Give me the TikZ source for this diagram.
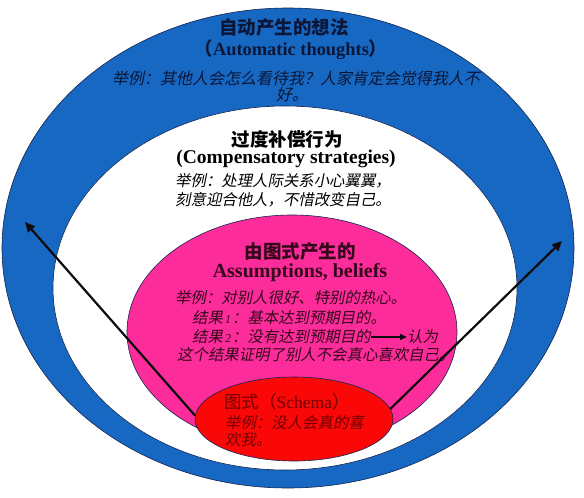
\documentclass[tikz,border=0pt]{standalone}
\usepackage{fontspec}
\setmainfont{Liberation Serif}
\newfontfamily\cjk{Noto Sans CJK SC}
\newfontfamily\cjkit{Noto Sans CJK SC}[FakeSlant=0.2]
\usetikzlibrary{shapes.geometric,arrows.meta}
\definecolor{blueF}{RGB}{22,104,194}
\definecolor{edge}{RGB}{20,35,80}
\definecolor{pinkF}{RGB}{252,44,154}
\definecolor{redF}{RGB}{250,8,8}
\definecolor{navy}{RGB}{12,22,55}
\definecolor{maroon}{RGB}{55,8,28}
\definecolor{darkred}{RGB}{115,0,0}
\definecolor{arrowc}{RGB}{15,12,15}
\tikzset{
  ell/.style={ellipse, draw=edge, line width=0.6pt, inner sep=0pt},
  ttl/.style={inner sep=0pt, anchor=center, font=\cjk\bfseries\fontsize{18.5}{20}\selectfont},
  lat/.style={inner sep=0pt, anchor=center, font=\bfseries\fontsize{19}{20}\selectfont},
  ex/.style={inner sep=0pt, anchor=west, font=\cjkit\fontsize{15.4}{17}\selectfont},
  arr/.style={line width=2.2pt, draw=arrowc, -{Triangle[length=10pt,width=9pt]}},
}
\newcommand\dig[1]{\kern2pt{\rmfamily\itshape\fontsize{12}{13}\selectfont #1}\kern1pt}
\begin{document}
\begin{tikzpicture}[x=1pt,y=-1pt]
\useasboundingbox (0,0) rectangle (584,498);
\fill[white] (0,0) rectangle (584,498);
% ellipses
\node[ell, fill=blueF, minimum width=572, minimum height=480] (outer) at (288,248) {};
\node[ell, fill=white, minimum width=464, minimum height=364] (white) at (285,288) {};
\node[ell, fill=pinkF, minimum width=330, minimum height=234] (pink) at (292,332) {};
\node[ell, fill=redF, minimum width=198, minimum height=84] (red) at (294,419) {};
% blue region text
\node[ttl, text=navy] (t1) at (284,28) {自动产生的想法};
\node[lat, text=navy, font=\bfseries\fontsize{18.4}{20}\selectfont] (t1b) at (291,50) {{\cjk （}Automatic thoughts{\cjk ）}};
\node[ex, anchor=center, text=navy, font=\cjkit\fontsize{16}{17}\selectfont] (t1c) at (296,78) {举例：其他人会怎么看待我？人家肯定会觉得我人不};
\node[ex, anchor=center, text=navy, font=\cjkit\fontsize{16}{17}\selectfont] (t1d) at (292,94) {好。};
% white region text
\node[ttl, text=black] (t2) at (287,139) {过度补偿行为};
\node[lat, text=black, font=\bfseries\fontsize{19.5}{20}\selectfont] (t2b) at (286,159) {(Compensatory strategies)};
\node[ex, text=black] (t2c) at (175,181) {举例：处理人际关系小心翼翼，};
\node[ex, text=black] (t2d) at (175,200) {刻意迎合他人，不惜改变自己。};
% pink region text
\node[ttl, text=maroon] (t3) at (300,252) {由图式产生的};
\node[lat, text=maroon, font=\bfseries\fontsize{20}{20}\selectfont] (t3b) at (300,273) {Assumptions, beliefs};
\node[ex, text=maroon] (t3c) at (175,298) {举例：对别人很好、特别的热心。};
\node[ex, text=maroon] (t3d) at (192,318) {结果\dig{1}：基本达到预期目的。};
\node[ex, text=maroon] (t3e) at (192,337) {结果\dig{2}：没有达到预期目的};
\node[ex, text=maroon] (t3f) at (407,337) {认为};
\node[ex, text=maroon] (t3g) at (177,355) {这个结果证明了别人不会真心喜欢自己。};
% red region text
\node[inner sep=0pt, anchor=west, text=darkred, font=\fontsize{17.5}{18}\selectfont] (t4) at (224,402) {{\cjk 图式（}Schema{\cjk ）}};
\node[ex, text=darkred] (t4b) at (225,423) {举例：没人会真的喜};
\node[ex, text=darkred] (t4c) at (225,440) {欢我。};
% arrows
\coordinate (tipL) at (25,222);
\coordinate (tipR) at (562,241);
\draw[arr] (red.178) -- (tipL);
\draw[arr] (red.6) -- (tipR);
\draw[arr, line width=1.8pt, -{Triangle[length=7pt,width=6pt]}] (t3e.east) -- (t3f.west);
\end{tikzpicture}
\end{document}
